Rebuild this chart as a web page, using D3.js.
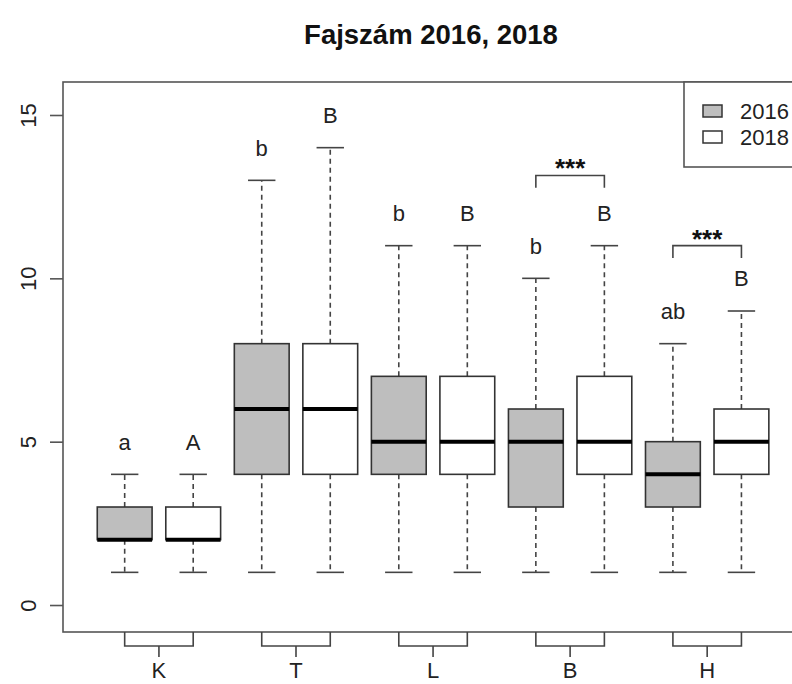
<!DOCTYPE html>
<html>
<head>
<meta charset="utf-8">
<script src="https://cdn.jsdelivr.net/npm/d3@7"></script>
<style>
  html, body { margin: 0; padding: 0; background: #fff; overflow: hidden; }
  svg { display: block; font-family: "Liberation Sans", Arial, sans-serif; }
</style>
</head>
<body>
<svg id="chart" width="792" height="684"></svg>
<script>
// Species counts per site group, 2016 vs 2018
const groups = ["K", "T", "L", "B", "H"];
const years = ["2016", "2018"];

const min2016 = [1, 1, 1, 1, 1];
const q1_2016 = [2, 4, 4, 3, 3];
const med2016 = [2, 6, 5, 5, 4];
const q3_2016 = [3, 8, 7, 6, 5];
const max2016 = [4, 13, 11, 10, 8];

const min2018 = [1, 1, 1, 1, 1];
const q1_2018 = [2, 4, 4, 4, 4];
const med2018 = [2, 6, 5, 5, 5];
const q3_2018 = [3, 8, 7, 7, 6];
const max2018 = [4, 14, 11, 11, 9];

const letters2016 = ["a", "b", "b", "b", "ab"];
const letters2018 = ["A", "B", "B", "B", "B"];

// between-year comparisons marked as significant
const sigGroups = ["B", "H"];
const sigLabels = ["***", "***"];
const sigLevels = [13.15, 11];

const yTicks = [0, 5, 10, 15];
const title = "Fajszám 2016, 2018";

// ---- layout ----
const frame = { left: 63, right: 799, top: 82, bottom: 632 };
const fills = { "2016": "#bebebe", "2018": "#ffffff" };
const fs = 22;

const svg = d3.select("#chart");

const x = d3.scaleLinear().domain([-0.9, 9.84]).range([frame.left, frame.right]);
const y = d3.scaleLinear().domain([-0.826, 16.01]).range([frame.bottom, frame.top]);
const unit = x(1) - x(0);
const boxW = 0.8 * unit;
const capW = 0.4 * unit;

// flatten into one row per box
const boxes = [];
groups.forEach((g, i) => {
  boxes.push({ g, year: "2016", pos: 2 * i, lo: min2016[i], q1: q1_2016[i], med: med2016[i], q3: q3_2016[i], hi: max2016[i], letter: letters2016[i] });
  boxes.push({ g, year: "2018", pos: 2 * i + 1, lo: min2018[i], q1: q1_2018[i], med: med2018[i], q3: q3_2018[i], hi: max2018[i], letter: letters2018[i] });
});

// title
svg.append("text")
  .attr("x", (frame.left + frame.right) / 2)
  .attr("y", 44)
  .attr("text-anchor", "middle")
  .attr("font-size", 27.5)
  .attr("font-weight", "bold")
  .attr("fill", "#111")
  .text(title);

const plot = svg.append("g");

// whiskers
const wk = plot.selectAll("g.box").data(boxes).join("g").attr("class", "box");
wk.append("line")
  .attr("x1", d => x(d.pos)).attr("x2", d => x(d.pos))
  .attr("y1", d => y(d.q3)).attr("y2", d => y(d.hi))
  .attr("stroke", "#444").attr("stroke-width", 1.6).attr("stroke-dasharray", "5,4");
wk.append("line")
  .attr("x1", d => x(d.pos)).attr("x2", d => x(d.pos))
  .attr("y1", d => y(d.q1)).attr("y2", d => y(d.lo))
  .attr("stroke", "#444").attr("stroke-width", 1.6).attr("stroke-dasharray", "5,4");
wk.append("line")
  .attr("x1", d => x(d.pos) - capW / 2).attr("x2", d => x(d.pos) + capW / 2)
  .attr("y1", d => y(d.hi)).attr("y2", d => y(d.hi))
  .attr("stroke", "#444").attr("stroke-width", 1.6);
wk.append("line")
  .attr("x1", d => x(d.pos) - capW / 2).attr("x2", d => x(d.pos) + capW / 2)
  .attr("y1", d => y(d.lo)).attr("y2", d => y(d.lo))
  .attr("stroke", "#444").attr("stroke-width", 1.6);

// boxes
wk.append("rect")
  .attr("x", d => x(d.pos) - boxW / 2)
  .attr("width", boxW)
  .attr("y", d => y(d.q3))
  .attr("height", d => y(d.q1) - y(d.q3))
  .attr("fill", d => fills[d.year])
  .attr("stroke", "#333").attr("stroke-width", 1.6);

// medians
wk.append("line")
  .attr("x1", d => x(d.pos) - boxW / 2).attr("x2", d => x(d.pos) + boxW / 2)
  .attr("y1", d => y(d.med)).attr("y2", d => y(d.med))
  .attr("stroke", "#000").attr("stroke-width", 4);

// group letters, one unit above the upper whisker
wk.append("text")
  .attr("x", d => x(d.pos))
  .attr("y", d => y(d.hi + 1) + 8)
  .attr("text-anchor", "middle")
  .attr("font-size", fs)
  .attr("fill", "#222")
  .text(d => d.letter);

// significance brackets
sigGroups.forEach((g, k) => {
  const i = groups.indexOf(g);
  const x0 = x(2 * i), x1 = x(2 * i + 1);
  const yl = y(sigLevels[k]);
  const drop = y(sigLevels[k] - 0.38) - yl;
  plot.append("path")
    .attr("d", `M${x0},${yl + drop}V${yl}H${x1}V${yl + drop}`)
    .attr("fill", "none").attr("stroke", "#444").attr("stroke-width", 1.6);
  plot.append("text")
    .attr("x", (x0 + x1) / 2)
    .attr("y", yl + 2)
    .attr("text-anchor", "middle")
    .attr("font-size", 26)
    .attr("font-weight", "bold")
    .attr("fill", "#111")
    .text(sigLabels[k]);
});

// plot frame
svg.append("rect")
  .attr("x", frame.left).attr("y", frame.top)
  .attr("width", frame.right - frame.left).attr("height", frame.bottom - frame.top)
  .attr("fill", "none").attr("stroke", "#555").attr("stroke-width", 1.6);

// y axis
const yAxis = d3.axisLeft(y).tickValues(yTicks).tickSize(13).tickPadding(4);
const ya = svg.append("g").attr("transform", `translate(${frame.left},0)`).call(yAxis);
ya.select(".domain").remove();
ya.selectAll(".tick line").attr("stroke", "#555").attr("stroke-width", 1.6);
ya.selectAll(".tick text")
  .attr("font-size", fs)
  .attr("fill", "#222")
  .attr("font-family", "Liberation Sans, Arial, sans-serif")
  .attr("text-anchor", "middle")
  .attr("x", 0).attr("dy", 0)
  .attr("transform", "translate(-27,0) rotate(-90)");

// x axis: bracket joining the two years of each group
const xa = svg.append("g");
groups.forEach((g, i) => {
  const x0 = x(2 * i), x1 = x(2 * i + 1), xm = (x0 + x1) / 2;
  xa.append("path")
    .attr("d", `M${x0},${frame.bottom}V${frame.bottom + 14}H${x1}V${frame.bottom}M${xm},${frame.bottom + 14}V${frame.bottom + 25}`)
    .attr("fill", "none").attr("stroke", "#444").attr("stroke-width", 1.6);
  xa.append("text")
    .attr("x", xm).attr("y", frame.bottom + 46)
    .attr("text-anchor", "middle")
    .attr("font-size", fs)
    .attr("fill", "#222")
    .text(g);
});

// legend, top-right corner
const lg = svg.append("g");
lg.append("rect")
  .attr("x", 684).attr("y", frame.top)
  .attr("width", frame.right - 684).attr("height", 167 - frame.top)
  .attr("fill", "#fff").attr("stroke", "#555").attr("stroke-width", 1.6);
years.forEach((yr, j) => {
  const cy = 111 + j * 26;
  lg.append("rect")
    .attr("x", 703).attr("y", cy - 6).attr("width", 19).attr("height", 12)
    .attr("fill", fills[yr]).attr("stroke", "#333").attr("stroke-width", 1.5);
  lg.append("text")
    .attr("x", 740).attr("y", cy + 8)
    .attr("font-size", fs)
    .attr("fill", "#222")
    .text(yr);
});
</script>
</body>
</html>
